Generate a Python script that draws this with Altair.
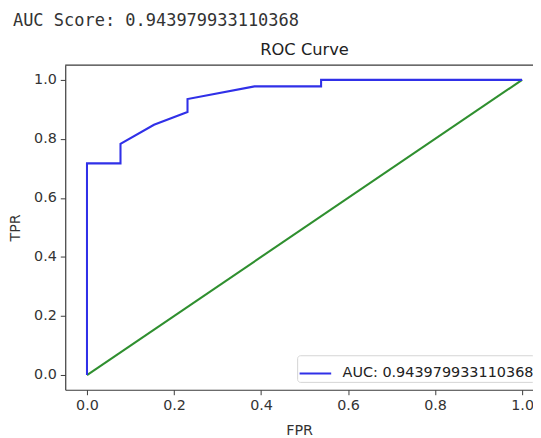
import altair as alt
import pandas as pd

# ---- data ----
fpr = [0.0, 0.0, 0.077, 0.077, 0.154, 0.231, 0.231, 0.385, 0.538, 0.538, 1.0]
tpr = [0.0, 0.717, 0.717, 0.783, 0.848, 0.891, 0.935, 0.978, 0.978, 1.0, 1.0]
diag_x = [0.0, 1.0]
diag_y = [0.0, 1.0]
auc_value = "0.943979933110368"
axis_ticks = [0.0, 0.2, 0.4, 0.6, 0.8, 1.0]
x_domain = [-0.05, 1.025]
y_domain = [-0.05, 1.05]
chart_title = "ROC Curve"

legend_label = f"AUC: {auc_value}"
score_text = f"AUC Score: {auc_value}"

roc_df = pd.DataFrame({"FPR": fpr, "TPR": tpr, "order": list(range(len(fpr))),
                       "series": [legend_label] * len(fpr)})
diag_df = pd.DataFrame({"FPR": diag_x, "TPR": diag_y, "order": [0, 1]})
top_df = pd.DataFrame({"top": [y_domain[1]]})
text_df = pd.DataFrame({"t": [score_text]})
title_df = pd.DataFrame({"t": [chart_title], "mid": [0.5]})

SPINE = "#3a3a3a"
FONT = "DejaVu Sans"
FS = 14.5

xscale = alt.Scale(domain=x_domain, nice=False, zero=False)
yscale = alt.Scale(domain=y_domain, nice=False, zero=False)

x_axis = alt.Axis(values=axis_ticks, format=".1f", grid=False, title="FPR",
                  titleY=45, titleBaseline="alphabetic")
y_axis = alt.Axis(values=axis_ticks, format=".1f", grid=False, title="TPR",
                  titleX=-46, titleBaseline="alphabetic")

roc = alt.Chart(roc_df).mark_line(strokeWidth=2.1, clip=True).encode(
    x=alt.X("FPR:Q", scale=xscale, axis=x_axis),
    y=alt.Y("TPR:Q", scale=yscale, axis=y_axis),
    order="order:Q",
    color=alt.Color("series:N",
                    scale=alt.Scale(domain=[legend_label], range=["#3030e8"]),
                    legend=alt.Legend(title=None, orient="none", legendX=235, legendY=294,
                                      symbolType="stroke", symbolSize=1024,
                                      symbolStrokeWidth=2.2, labelFont=FONT,
                                      labelFontSize=14.6, labelColor="#222",
                                      labelOffset=10, labelLimit=400, padding=1,
                                      strokeColor="#d4d4d4", fillColor="white",
                                      cornerRadius=3)),
)

diag = alt.Chart(diag_df).mark_line(strokeWidth=2.1, color="#2f8f2f", clip=True).encode(
    x=alt.X("FPR:Q", scale=xscale),
    y=alt.Y("TPR:Q", scale=yscale),
    order="order:Q",
)

top_rule = alt.Chart(top_df).mark_rule(color=SPINE, strokeWidth=1.2).encode(
    y=alt.Y("top:Q", scale=yscale)
)

score = alt.Chart(text_df).mark_text(
    font="DejaVu Sans Mono", fontSize=17.2, color="#333", align="left",
    baseline="alphabetic"
).encode(text="t:N", x=alt.value(-53), y=alt.value(-40))

title = alt.Chart(title_df).mark_text(
    font=FONT, fontSize=16.5, color="#222", align="center", baseline="alphabetic"
).encode(text="t:N", x=alt.X("mid:Q", scale=xscale), y=alt.value(-10))

chart = alt.layer(diag, roc, top_rule, score, title).properties(
    width=474, height=329,
    autosize=alt.AutoSizeParams(type="none"),
    padding={"left": 58, "top": 55, "right": 0, "bottom": 47},
).configure_view(stroke=None).configure_axis(
    domainColor=SPINE, domainWidth=1.2, tickColor=SPINE, tickSize=5, tickWidth=1,
    labelFont=FONT, labelFontSize=FS, labelColor="#333", labelPadding=4,
    titleFont=FONT, titleFontSize=FS, titleFontWeight="normal", titleColor="#333",
)

chart.save("out.html", embed_options={"renderer": "svg", "actions": False})
